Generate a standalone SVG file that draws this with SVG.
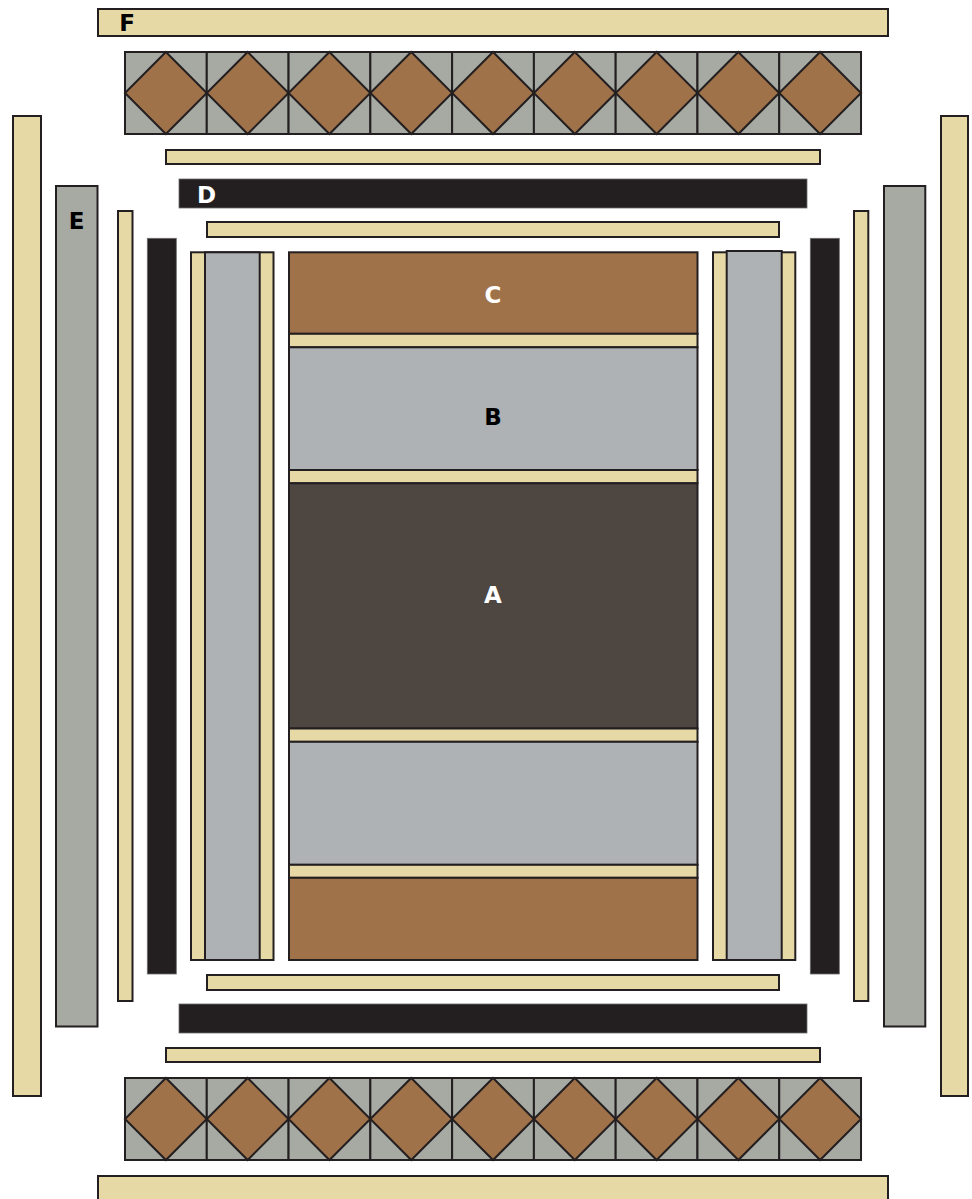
<svg xmlns="http://www.w3.org/2000/svg" xmlns:xlink="http://www.w3.org/1999/xlink" width="972" height="1199" viewBox="0 0 972 1199">
<style>
.tan{fill:#E6D9A6;stroke:#231F20;stroke-width:2}
.brn{fill:#A0724A;stroke:#231F20;stroke-width:2}
.drk{fill:#4E4641;stroke:#231F20;stroke-width:2}
.gb{fill:#AEB2B4;stroke:#231F20;stroke-width:2}
.gr{fill:#A7A9A3;stroke:#231F20;stroke-width:2}
.blk{fill:#231F20;stroke:#6d6b6b;stroke-width:0.8}
.lbl{font-family:"DejaVu Sans","Liberation Sans",sans-serif;font-weight:bold;font-size:23px;text-anchor:middle}
.w{fill:#ffffff}
.k{fill:#000000}
</style>
<defs>
<g id="tile">
<rect class="gr" x="0" y="0" width="81.78" height="82"/>
<polygon class="brn" points="40.89,0 81.78,41 40.89,82 0,41"/>
</g>
</defs>
<rect width="972" height="1199" fill="#ffffff"/>

<g id="F-top"><rect class="tan" x="98" y="9" width="790" height="27"/><text class="lbl k" x="127" y="31">F</text></g>
<g id="F-bottom"><rect class="tan" x="98" y="1176" width="790" height="30"/></g>

<g id="tiles-top">
<use xlink:href="#tile" x="125" y="52"/>
<use xlink:href="#tile" x="206.78" y="52"/>
<use xlink:href="#tile" x="288.56" y="52"/>
<use xlink:href="#tile" x="370.34" y="52"/>
<use xlink:href="#tile" x="452.12" y="52"/>
<use xlink:href="#tile" x="533.9" y="52"/>
<use xlink:href="#tile" x="615.68" y="52"/>
<use xlink:href="#tile" x="697.46" y="52"/>
<use xlink:href="#tile" x="779.24" y="52"/>
</g>
<g id="tiles-bottom">
<use xlink:href="#tile" x="125" y="1078"/>
<use xlink:href="#tile" x="206.78" y="1078"/>
<use xlink:href="#tile" x="288.56" y="1078"/>
<use xlink:href="#tile" x="370.34" y="1078"/>
<use xlink:href="#tile" x="452.12" y="1078"/>
<use xlink:href="#tile" x="533.9" y="1078"/>
<use xlink:href="#tile" x="615.68" y="1078"/>
<use xlink:href="#tile" x="697.46" y="1078"/>
<use xlink:href="#tile" x="779.24" y="1078"/>
</g>

<g id="strip-top-1"><rect class="tan" x="166" y="150" width="654" height="14"/></g>
<g id="strip-bottom-1"><rect class="tan" x="166" y="1048" width="654" height="14"/></g>

<g id="D-top"><rect class="blk" x="179" y="179" width="628" height="29"/><text class="lbl w" x="206.5" y="203">D</text></g>
<g id="D-bottom"><rect class="blk" x="179" y="1004" width="628" height="29"/></g>

<g id="strip-top-2"><rect class="tan" x="207" y="222" width="572" height="15"/></g>
<g id="strip-bottom-2"><rect class="tan" x="207" y="975" width="572" height="15"/></g>

<g id="F-left"><rect class="tan" x="13" y="116" width="28" height="980"/></g>
<g id="F-right"><rect class="tan" x="941" y="116" width="27" height="980"/></g>

<g id="E-left"><rect class="gr" x="56" y="186" width="41.5" height="840.5"/><text class="lbl k" x="76.5" y="229">E</text></g>
<g id="E-right"><rect class="gr" x="884" y="186" width="41.3" height="840.5"/></g>

<g id="strip-left"><rect class="tan" x="118" y="211" width="14.5" height="790"/></g>
<g id="strip-right"><rect class="tan" x="854" y="211" width="14.3" height="790"/></g>

<g id="D-left"><rect class="blk" x="147.3" y="238.3" width="29" height="735.7"/></g>
<g id="D-right"><rect class="blk" x="810.3" y="238.3" width="29" height="735.7"/></g>

<g id="col-left">
<rect class="tan" x="191" y="252.3" width="82.5" height="707.7"/>
<rect class="gb" x="205" y="252.3" width="54.7" height="707.7"/>
</g>
<g id="col-right">
<rect class="tan" x="713" y="252.3" width="82.3" height="707.7"/>
<rect class="gb" x="726.7" y="251" width="55" height="709"/>
</g>

<g id="center">
<rect class="brn" x="289" y="252.3" width="408.5" height="81.5"/>
<rect class="tan" x="289" y="333.8" width="408.5" height="13.5"/>
<rect class="gb" x="289" y="347.3" width="408.5" height="122.7"/>
<rect class="tan" x="289" y="470" width="408.5" height="13.3"/>
<rect class="drk" x="289" y="483.3" width="408.5" height="245.2"/>
<rect class="tan" x="289" y="728.5" width="408.5" height="13.3"/>
<rect class="gb" x="289" y="741.8" width="408.5" height="123"/>
<rect class="tan" x="289" y="864.8" width="408.5" height="13"/>
<rect class="brn" x="289" y="877.8" width="408.5" height="82.2"/>
</g>
<g id="C"><text class="lbl w" x="493" y="303">C</text></g>
<g id="B"><text class="lbl k" x="493" y="425">B</text></g>
<g id="A"><text class="lbl w" x="493" y="603">A</text></g>
<g id="connectors"/>
</svg>
